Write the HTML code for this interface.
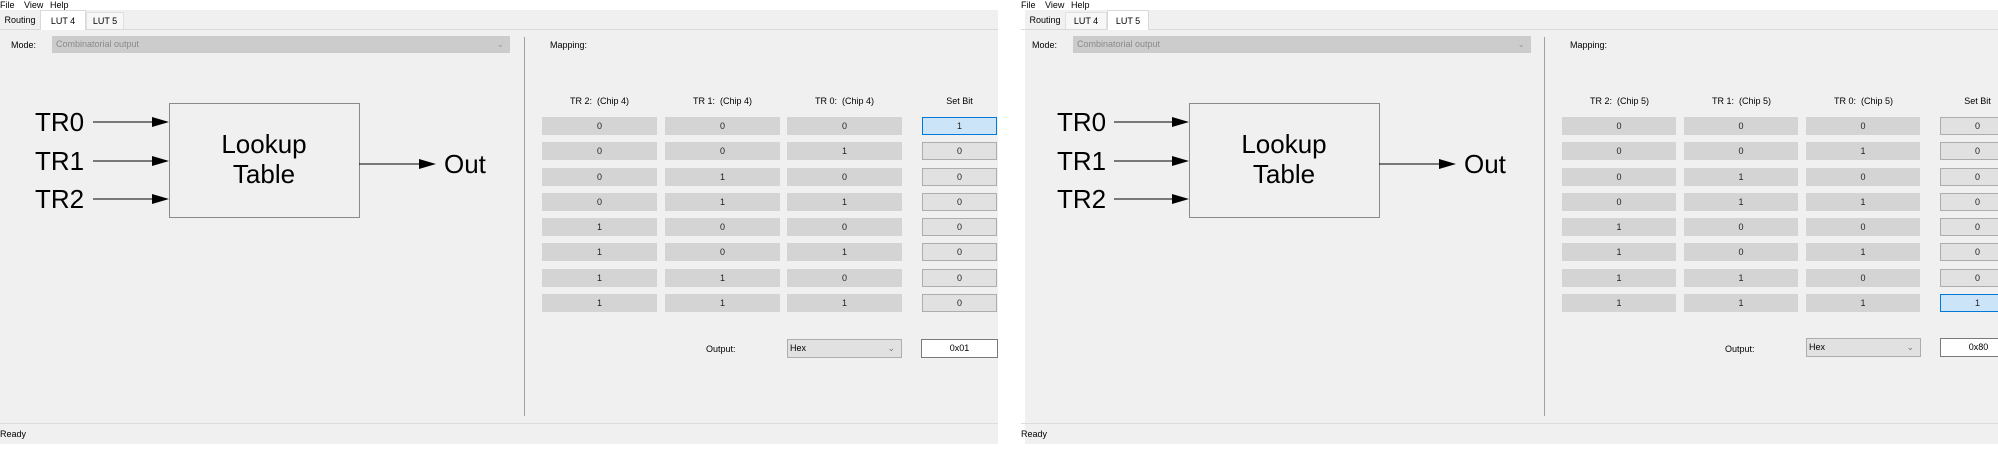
<!DOCTYPE html>
<html><head><meta charset="utf-8">
<style>
*{margin:0;padding:0;box-sizing:border-box}
html,body{width:1998px;height:471px;overflow:hidden;background:#fff;font-family:"Liberation Sans",Tahoma,sans-serif}
.win{position:absolute;top:0;width:998px;height:444px;background:#f0f0f0;overflow:hidden}
.a{position:absolute;white-space:nowrap}
.menu{left:0;top:0;width:998px;height:10px;background:#fff;font-size:9px;line-height:10px}
.tabline{left:0;top:29px;width:998px;height:1px;background:#d9d9d9}
.tab{font-size:9px;line-height:16px;text-align:center;top:12px;height:17px}
.tab.on{background:#fff;border:1px solid #d9d9d9;border-bottom:none;top:10px;height:20px;line-height:20px}
.sm{font-size:9px;color:#000}
.cell{background:#d4d4d4;height:18px;font-size:9px;line-height:18px;text-align:center;color:#222}
.sb{background:#e1e1e1;border:1px solid #adadad;height:18px;font-size:9px;line-height:16px;text-align:center;color:#222}
.sb.sel{background:#cce4f7;border-color:#0078d7}
.hd{font-size:9px;text-align:center;top:96px;line-height:10px}
</style></head><body>

<!-- WINDOW 1 -->
<div class="win" style="left:0">
<div class="a menu"><span style="position:absolute;left:0">File</span><span style="position:absolute;left:24px">View</span><span style="position:absolute;left:50px">Help</span></div>
<div class="a tabline"></div>
<div class="a tab" style="left:0;width:40px">Routing</div>
<div class="a tab on" style="left:40px;width:46px">LUT 4</div>
<div class="a tab" style="left:86px;width:38px;background:#f7f7f7;border:1px solid #e0e0e0;border-bottom:none">LUT 5</div>
<div class="a sm" style="left:11px;top:40px;line-height:10px">Mode:</div>
<div class="a" style="left:52px;top:36px;width:458px;height:17px;background:#cccccc;font-size:9px;line-height:17px;color:#8a8a8a;padding-left:4px">Combinatorial output<span style="position:absolute;right:6px;color:#999">&#8964;</span></div>
<div class="a" style="left:524px;top:37px;width:1px;height:379px;background:#a0a0a0"></div>
<svg class="a" style="left:0;top:0" width="520" height="260">
<g font-family="Liberation Sans, Arial, sans-serif" font-size="26" fill="#000">
<text x="35" y="131">TR0</text><text x="35" y="170">TR1</text><text x="35" y="208">TR2</text>
<text x="264" y="153" text-anchor="middle">Lookup</text><text x="264" y="183" text-anchor="middle">Table</text>
<text x="444" y="173">Out</text></g>
<rect x="169.5" y="103.5" width="190" height="114" fill="none" stroke="#8a8a8a" stroke-width="1"/>
<g stroke="#000" stroke-width="1"><line x1="93" y1="122" x2="155" y2="122"/><line x1="93" y1="161" x2="155" y2="161"/><line x1="93" y1="199" x2="155" y2="199"/><line x1="359" y1="164" x2="422" y2="164"/></g>
<g fill="#000"><polygon points="152,117 169,122 152,127"/><polygon points="152,156 169,161 152,166"/><polygon points="152,194 169,199 152,204"/><polygon points="419,159 436,164 419,169"/></g>
</svg>
<div class="a sm" style="left:550px;top:40px;line-height:10px">Mapping:</div>
<div class="a hd" style="left:542px;width:115px">TR 2:&nbsp; (Chip 4)</div>
<div class="a hd" style="left:665px;width:115px">TR 1:&nbsp; (Chip 4)</div>
<div class="a hd" style="left:787px;width:115px">TR 0:&nbsp; (Chip 4)</div>
<div class="a hd" style="left:922px;width:75px">Set Bit</div>
<div class="a" style="left:542px;top:117px">
<div class="a cell" style="left:0;top:0;width:115px">0</div><div class="a cell" style="left:123px;top:0;width:115px">0</div><div class="a cell" style="left:245px;top:0;width:115px">0</div><div class="a sb sel" style="left:380px;top:0;width:75px">1</div>
<div class="a cell" style="left:0;top:25px;width:115px">0</div><div class="a cell" style="left:123px;top:25px;width:115px">0</div><div class="a cell" style="left:245px;top:25px;width:115px">1</div><div class="a sb" style="left:380px;top:25px;width:75px">0</div>
<div class="a cell" style="left:0;top:51px;width:115px">0</div><div class="a cell" style="left:123px;top:51px;width:115px">1</div><div class="a cell" style="left:245px;top:51px;width:115px">0</div><div class="a sb" style="left:380px;top:51px;width:75px">0</div>
<div class="a cell" style="left:0;top:76px;width:115px">0</div><div class="a cell" style="left:123px;top:76px;width:115px">1</div><div class="a cell" style="left:245px;top:76px;width:115px">1</div><div class="a sb" style="left:380px;top:76px;width:75px">0</div>
<div class="a cell" style="left:0;top:101px;width:115px">1</div><div class="a cell" style="left:123px;top:101px;width:115px">0</div><div class="a cell" style="left:245px;top:101px;width:115px">0</div><div class="a sb" style="left:380px;top:101px;width:75px">0</div>
<div class="a cell" style="left:0;top:126px;width:115px">1</div><div class="a cell" style="left:123px;top:126px;width:115px">0</div><div class="a cell" style="left:245px;top:126px;width:115px">1</div><div class="a sb" style="left:380px;top:126px;width:75px">0</div>
<div class="a cell" style="left:0;top:152px;width:115px">1</div><div class="a cell" style="left:123px;top:152px;width:115px">1</div><div class="a cell" style="left:245px;top:152px;width:115px">0</div><div class="a sb" style="left:380px;top:152px;width:75px">0</div>
<div class="a cell" style="left:0;top:177px;width:115px">1</div><div class="a cell" style="left:123px;top:177px;width:115px">1</div><div class="a cell" style="left:245px;top:177px;width:115px">1</div><div class="a sb" style="left:380px;top:177px;width:75px">0</div>
</div>
<div class="a sm" style="left:706px;top:344px;line-height:10px">Output:</div>
<div class="a" style="left:787px;top:339px;width:115px;height:19px;background:#e1e1e1;border:1px solid #adadad;font-size:9px;line-height:17px;padding-left:2px">Hex<span style="position:absolute;right:6px;color:#777">&#8964;</span></div>
<div class="a" style="left:921px;top:339px;width:77px;height:19px;background:#fff;border:1px solid #7a7a7a;font-size:9px;line-height:17px;text-align:center">0x01</div>
<div class="a" style="left:0;top:423px;width:998px;height:1px;background:#dcdcdc"></div>
<div class="a sm" style="left:0;top:429px;line-height:10px">Ready</div>
</div>

<!-- WINDOW 2 -->
<div class="win" style="left:1021px;width:977px">
<div class="a menu"><span style="position:absolute;left:0">File</span><span style="position:absolute;left:24px">View</span><span style="position:absolute;left:50px">Help</span></div>
<div class="a" style="left:0;top:10px;width:4px;height:434px;background:#fff"></div>
<div class="a tabline"></div>
<div class="a tab" style="left:4px;width:40px">Routing</div>
<div class="a tab" style="left:44px;width:42px;background:#f7f7f7;border:1px solid #e0e0e0;border-bottom:none">LUT 4</div>
<div class="a tab on" style="left:86px;width:42px">LUT 5</div>
<div class="a sm" style="left:11px;top:40px;line-height:10px">Mode:</div>
<div class="a" style="left:52px;top:36px;width:458px;height:17px;background:#cccccc;font-size:9px;line-height:17px;color:#8a8a8a;padding-left:4px">Combinatorial output<span style="position:absolute;right:6px;color:#999">&#8964;</span></div>
<div class="a" style="left:523px;top:37px;width:1px;height:379px;background:#a0a0a0"></div>
<svg class="a" style="left:0;top:0" width="520" height="260">
<g font-family="Liberation Sans, Arial, sans-serif" font-size="26" fill="#000">
<text x="36" y="131">TR0</text><text x="36" y="170">TR1</text><text x="36" y="208">TR2</text>
<text x="263" y="153" text-anchor="middle">Lookup</text><text x="263" y="183" text-anchor="middle">Table</text>
<text x="443" y="173">Out</text></g>
<rect x="168.5" y="103.5" width="190" height="114" fill="none" stroke="#8a8a8a" stroke-width="1"/>
<g stroke="#000" stroke-width="1"><line x1="93" y1="122" x2="154" y2="122"/><line x1="93" y1="161" x2="154" y2="161"/><line x1="93" y1="199" x2="154" y2="199"/><line x1="358" y1="164" x2="421" y2="164"/></g>
<g fill="#000"><polygon points="151,117 168,122 151,127"/><polygon points="151,156 168,161 151,166"/><polygon points="151,194 168,199 151,204"/><polygon points="418,159 435,164 418,169"/></g>
</svg>
<div class="a sm" style="left:549px;top:40px;line-height:10px">Mapping:</div>
<div class="a hd" style="left:541px;width:115px">TR 2:&nbsp; (Chip 5)</div>
<div class="a hd" style="left:663px;width:115px">TR 1:&nbsp; (Chip 5)</div>
<div class="a hd" style="left:785px;width:115px">TR 0:&nbsp; (Chip 5)</div>
<div class="a hd" style="left:919px;width:75px">Set Bit</div>
<div class="a" style="left:541px;top:117px">
<div class="a cell" style="left:0;top:0;width:114px">0</div><div class="a cell" style="left:122px;top:0;width:114px">0</div><div class="a cell" style="left:244px;top:0;width:114px">0</div><div class="a sb" style="left:378px;top:0;width:75px">0</div>
<div class="a cell" style="left:0;top:25px;width:114px">0</div><div class="a cell" style="left:122px;top:25px;width:114px">0</div><div class="a cell" style="left:244px;top:25px;width:114px">1</div><div class="a sb" style="left:378px;top:25px;width:75px">0</div>
<div class="a cell" style="left:0;top:51px;width:114px">0</div><div class="a cell" style="left:122px;top:51px;width:114px">1</div><div class="a cell" style="left:244px;top:51px;width:114px">0</div><div class="a sb" style="left:378px;top:51px;width:75px">0</div>
<div class="a cell" style="left:0;top:76px;width:114px">0</div><div class="a cell" style="left:122px;top:76px;width:114px">1</div><div class="a cell" style="left:244px;top:76px;width:114px">1</div><div class="a sb" style="left:378px;top:76px;width:75px">0</div>
<div class="a cell" style="left:0;top:101px;width:114px">1</div><div class="a cell" style="left:122px;top:101px;width:114px">0</div><div class="a cell" style="left:244px;top:101px;width:114px">0</div><div class="a sb" style="left:378px;top:101px;width:75px">0</div>
<div class="a cell" style="left:0;top:126px;width:114px">1</div><div class="a cell" style="left:122px;top:126px;width:114px">0</div><div class="a cell" style="left:244px;top:126px;width:114px">1</div><div class="a sb" style="left:378px;top:126px;width:75px">0</div>
<div class="a cell" style="left:0;top:152px;width:114px">1</div><div class="a cell" style="left:122px;top:152px;width:114px">1</div><div class="a cell" style="left:244px;top:152px;width:114px">0</div><div class="a sb" style="left:378px;top:152px;width:75px">0</div>
<div class="a cell" style="left:0;top:177px;width:114px">1</div><div class="a cell" style="left:122px;top:177px;width:114px">1</div><div class="a cell" style="left:244px;top:177px;width:114px">1</div><div class="a sb sel" style="left:378px;top:177px;width:75px">1</div>
</div>
<div class="a sm" style="left:704px;top:344px;line-height:10px">Output:</div>
<div class="a" style="left:785px;top:338px;width:115px;height:19px;background:#e1e1e1;border:1px solid #adadad;font-size:9px;line-height:17px;padding-left:2px">Hex<span style="position:absolute;right:6px;color:#777">&#8964;</span></div>
<div class="a" style="left:919px;top:338px;width:77px;height:19px;background:#fff;border:1px solid #7a7a7a;font-size:9px;line-height:17px;text-align:center">0x80</div>
<div class="a" style="left:0;top:423px;width:977px;height:1px;background:#dcdcdc"></div>
<div class="a sm" style="left:0;top:429px;line-height:10px">Ready</div>
</div>
</body></html>
